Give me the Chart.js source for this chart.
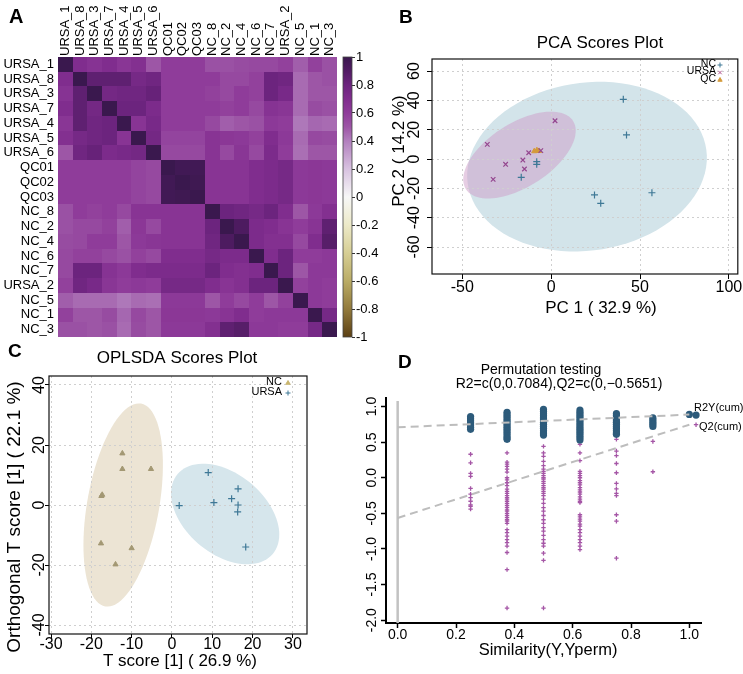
<!DOCTYPE html>
<html>
<head>
<meta charset="utf-8">
<title>Sample correlation, PCA, OPLS-DA and permutation test</title>
<script src="https://cdn.jsdelivr.net/npm/chart.js@4.4.1/dist/chart.umd.min.js"></script>
<style>
  html, body { margin: 0; padding: 0; background: #fff; overflow: hidden; }
  body { position: relative; width: 743px; height: 674px; }
  .panel { position: absolute; }
  canvas { display: block; }
</style>
</head>
<body>
<div class="panel" style="left:0;top:0"><canvas id="heatChart" width="340" height="345"></canvas></div>
<div class="panel" style="left:336px;top:0"><canvas id="scaleChart" width="64" height="345"></canvas></div>
<div class="panel" style="left:371px;top:0"><canvas id="pcaChart" width="372" height="330"></canvas></div>
<div class="panel" style="left:0;top:330px"><canvas id="oplsChart" width="371" height="344"></canvas></div>
<div class="panel" style="left:355px;top:330px"><canvas id="permChart" width="388" height="344"></canvas></div>
<script>
const FONT = '"Liberation Sans", Arial, Helvetica, sans-serif';
Chart.defaults.font.family = FONT;
Chart.defaults.color = '#000';

// ---- A: sample correlation heatmap ----
const sampleNames = ['URSA_1', 'URSA_8', 'URSA_3', 'URSA_7', 'URSA_4', 'URSA_5', 'URSA_6',
  'QC01', 'QC02', 'QC03', 'NC_8', 'NC_2', 'NC_4', 'NC_6', 'NC_7', 'URSA_2', 'NC_5', 'NC_1', 'NC_3'];
const corrRows = [
  [1.00, .70, .66, .70, .64, .68, .50, .60, .60, .60, .52, .52, .54, .55, .55, .58, .48, .58, .52],
  [.70, 1.00, .85, .85, .85, .75, .78, .60, .60, .60, .60, .55, .55, .58, .80, .78, .45, .50, .52],
  [.66, .85, 1.00, .76, .78, .78, .82, .60, .60, .60, .58, .55, .60, .58, .80, .74, .45, .50, .50],
  [.70, .85, .76, 1.00, .80, .80, .72, .60, .60, .60, .60, .58, .60, .55, .66, .64, .45, .54, .52],
  [.64, .85, .78, .80, 1.00, .65, .74, .60, .60, .60, .55, .48, .50, .52, .62, .60, .42, .46, .45],
  [.68, .75, .78, .80, .65, 1.00, .76, .57, .57, .57, .65, .63, .62, .58, .70, .62, .45, .55, .54],
  [.50, .78, .82, .72, .74, .76, 1.00, .55, .55, .55, .65, .55, .64, .55, .72, .60, .44, .50, .50],
  [.60, .60, .60, .60, .60, .57, .55, 1.00, .97, .97, .65, .65, .65, .70, .72, .75, .62, .63, .62],
  [.60, .60, .60, .60, .60, .57, .55, .97, 1.00, .98, .65, .65, .65, .70, .72, .75, .62, .63, .62],
  [.60, .60, .60, .60, .60, .57, .55, .97, .98, 1.00, .65, .65, .65, .70, .72, .75, .62, .63, .62],
  [.52, .60, .58, .60, .55, .65, .65, .65, .65, .65, 1.00, .80, .78, .75, .80, .70, .50, .62, .68],
  [.52, .55, .55, .58, .48, .63, .55, .65, .65, .65, .80, 1.00, .92, .72, .70, .65, .60, .65, .85],
  [.54, .55, .60, .60, .50, .62, .64, .65, .65, .65, .78, .92, 1.00, .72, .68, .68, .55, .70, .88],
  [.55, .58, .58, .55, .52, .58, .55, .70, .70, .70, .75, .72, .72, 1.00, .70, .80, .60, .60, .62],
  [.55, .80, .80, .66, .62, .70, .72, .72, .72, .72, .80, .70, .68, .70, 1.00, .80, .50, .62, .62],
  [.58, .78, .74, .64, .60, .62, .60, .75, .75, .75, .70, .65, .68, .80, .80, 1.00, .58, .62, .60],
  [.48, .45, .45, .45, .42, .45, .44, .62, .62, .62, .50, .60, .55, .60, .50, .58, 1.00, .62, .60],
  [.58, .50, .50, .54, .46, .55, .50, .63, .63, .63, .62, .65, .70, .60, .62, .62, .62, 1.00, .75],
  [.52, .52, .50, .52, .45, .54, .50, .62, .62, .62, .68, .85, .88, .62, .62, .60, .60, .75, 1.00]
];
const corrTicks = [-1, -0.8, -0.6, -0.4, -0.2, 0, 0.2, 0.4, 0.6, 0.8, 1];

// ---- B: PCA scores ----
const pcaNcX = [40.6, 42.4, 24.4, 27.9, 56.7, -16.8, -8.1, -8.1];
const pcaNcY = [40.7, 16.4, -24.5, -30.2, -23.0, -12.5, -1.8, -3.6];
const pcaUrsaX = [-35.9, 2.2, -25.6, -32.6, -15.9, -15.0, -12.6, -5.8];
const pcaUrsaY = [10.0, 26.1, -3.6, -13.9, -0.7, -6.8, 4.3, 5.7];
const pcaQcX = [-9.5, -8.0, -6.8];
const pcaQcY = [5.3, 6.0, 5.5];
const pcaTicksX = [-50, 0, 50, 100];
const pcaTicksY = [-60, -40, -20, 0, 20, 40, 60];

// ---- C: OPLS-DA scores ----
const oplsNcX = [-12.3, -12.3, -5.2, -17.5, -17.3, -17.6, -10.0, -14.0];
const oplsNcY = [17.2, 12.0, 12.0, 3.0, 3.4, -12.8, -14.4, -19.8];
const oplsUrsaX = [9.0, 1.8, 10.4, 14.8, 16.4, 16.4, 16.3, 18.3];
const oplsUrsaY = [10.8, -0.2, 0.8, 2.1, 5.4, 0.0, -2.3, -14.0];
const oplsTicksX = [-30, -20, -10, 0, 10, 20, 30];
const oplsTicksY = [-40, -20, 0, 20, 40];

// ---- D: permutation test ----
const permSim = [0.25, 0.375, 0.5, 0.625, 0.75, 0.875, 1.0, 1.023];
const permR2 = [
  [0.86, 0.83, 0.80, 0.77, 0.74, 0.71, 0.68],
  [0.92, 0.89, 0.86, 0.83, 0.80, 0.77, 0.74, 0.71, 0.68, 0.65, 0.62, 0.59, 0.56, 0.54],
  [0.96, 0.93, 0.90, 0.87, 0.84, 0.81, 0.78, 0.75, 0.72, 0.69, 0.66, 0.63, 0.60],
  [0.95, 0.92, 0.89, 0.86, 0.83, 0.80, 0.77, 0.74, 0.71, 0.68, 0.65, 0.62, 0.59, 0.56, 0.53],
  [0.90, 0.87, 0.81, 0.78, 0.75, 0.72, 0.69, 0.66, 0.63, 0.61],
  [0.84, 0.81, 0.78, 0.75, 0.72],
  [0.89],
  [0.88]
];
const permQ2 = [
  [0.33, 0.21, 0.06, 0.02, -0.15, -0.23, -0.28, -0.33, -0.38, -0.40, -0.44],
  [0.35, 0.22, 0.19, 0.16, 0.12, 0.08, 0.00, -0.03, -0.07, -0.11, -0.16, -0.19, -0.22, -0.25,
   -0.28, -0.30, -0.33, -0.36, -0.39, -0.42, -0.45, -0.47, -0.50, -0.53, -0.56, -0.59, -0.61,
   -0.64, -0.73, -0.77, -0.82, -0.87, -0.91, -0.96, -1.05, -1.29, -1.83],
  [0.44, 0.35, 0.30, 0.23, 0.17, 0.12, 0.09, 0.06, 0.03, 0.00, -0.02, -0.05, -0.08, -0.11,
   -0.14, -0.16, -0.19, -0.22, -0.25, -0.30, -0.36, -0.42, -0.47, -0.53, -0.59, -0.64, -0.70,
   -0.75, -0.81, -0.87, -0.92, -0.96, -1.06, -1.16, -1.83],
  [0.47, 0.35, 0.24, 0.09, 0.06, 0.03, 0.00, -0.04, -0.07, -0.10, -0.14, -0.17, -0.20, -0.23,
   -0.27, -0.30, -0.33, -0.35, -0.52, -0.55, -0.58, -0.61, -0.65, -0.68, -0.73, -0.77, -0.82,
   -0.87, -0.91, -0.96, -1.01],
  [0.54, 0.375, 0.31, 0.20, 0.07, -0.08, -0.155, -0.22, -0.25, -0.52, -0.61, -1.13],
  [0.51, 0.084],
  [],
  [0.745]
];
const r2LineX = [0, 1], r2LineY = [0.7084, 0.887];
const q2LineX = [0, 1], q2LineY = [-0.5651, 0.745];
const permTicksX = [0, 0.2, 0.4, 0.6, 0.8, 1.0];
const permTicksY = [-2, -1.5, -1, -0.5, 0, 0.5, 1];

// ---------- helpers ----------
const pts = (xs, ys) => xs.map((x, i) => ({ x, y: ys[i] }));
const f = (size, weight) => `${weight || 'normal'} ${size}px ${FONT}`;

// brown - white - purple scale used by the heatmap
const cmapStops = [-1, -0.8, -0.6, -0.4, -0.2, 0, 0.2, 0.4, 0.5, 0.6, 0.7, 0.8, 0.9, 1];
const cmapRgb = [[92, 64, 20], [146, 122, 60], [186, 172, 102], [214, 206, 148], [236, 233, 200],
  [247, 247, 247], [216, 194, 224], [178, 128, 190], [157, 86, 166], [143, 60, 154],
  [128, 45, 142], [108, 36, 126], [82, 28, 100], [58, 24, 78]];
function corrColor(v) {
  for (let k = 1; k < cmapStops.length; k++) {
    if (v <= cmapStops[k]) {
      const t = (v - cmapStops[k - 1]) / (cmapStops[k] - cmapStops[k - 1]);
      const a = cmapRgb[k - 1], b = cmapRgb[k];
      return `rgb(${a.map((c, i) => Math.round(c + (b[i] - c) * t)).join(',')})`;
    }
  }
  return `rgb(${cmapRgb[cmapRgb.length - 1].join(',')})`;
}

// free text (titles, axis titles, panel letters)
const textPlugin = {
  id: 'texts',
  afterDraw(chart, args, opts) {
    const ctx = chart.ctx;
    (opts.items || []).forEach(t => {
      ctx.save();
      ctx.font = t.font;
      ctx.fillStyle = '#000';
      ctx.textAlign = t.align || 'center';
      ctx.textBaseline = t.baseline || 'middle';
      ctx.translate(t.x, t.y);
      if (t.rotate) ctx.rotate(t.rotate * Math.PI / 180);
      ctx.fillText(t.text, 0, 0);
      ctx.restore();
    });
  }
};

// small R-style key: label then symbol
const keyPlugin = {
  id: 'keys',
  afterDraw(chart, args, opts) {
    const ctx = chart.ctx;
    (opts.items || []).forEach(k => {
      ctx.save();
      ctx.font = opts.font;
      ctx.fillStyle = '#000';
      ctx.textAlign = 'right';
      ctx.textBaseline = 'middle';
      ctx.fillText(k.text, opts.x, k.y);
      ctx.strokeStyle = k.color;
      ctx.fillStyle = k.color;
      Chart.helpers.drawPoint(ctx, { pointStyle: k.style, radius: 2.5, borderWidth: 1, rotation: 0 }, opts.x + opts.gap, k.y + 1);
      ctx.restore();
    });
  }
};

// confidence ellipses: centre + two conjugate semi-axes, in data units
const ellipsePlugin = {
  id: 'ellipses',
  beforeDraw(chart, args, opts) {
    const { ctx, chartArea: a, scales: { x, y } } = chart;
    ctx.save();
    ctx.beginPath();
    ctx.rect(a.left, a.top, a.right - a.left, a.bottom - a.top);
    ctx.clip();
    (opts.items || []).forEach(e => {
      ctx.beginPath();
      for (let k = 0; k <= 90; k++) {
        const t = k / 90 * 2 * Math.PI;
        const px = x.getPixelForValue(e.c[0] + e.u[0] * Math.cos(t) + e.v[0] * Math.sin(t));
        const py = y.getPixelForValue(e.c[1] + e.u[1] * Math.cos(t) + e.v[1] * Math.sin(t));
        if (k === 0) ctx.moveTo(px, py); else ctx.lineTo(px, py);
      }
      ctx.closePath();
      ctx.fillStyle = e.color;
      ctx.fill();
    });
    ctx.restore();
  }
};

const framePlugin = {
  id: 'frame',
  afterDraw(chart) {
    const { ctx, chartArea: a } = chart;
    ctx.save();
    ctx.strokeStyle = '#111';
    ctx.lineWidth = 1.2;
    ctx.strokeRect(a.left, a.top, a.right - a.left, a.bottom - a.top);
    ctx.restore();
  }
};

const heatPlugin = {
  id: 'heatCells',
  beforeDatasetsDraw(chart) {
    const { ctx, scales: { x, y } } = chart;
    chart.data.datasets[0].data.forEach(c => {
      const x0 = Math.round(x.getPixelForValue(c.x - 0.5));
      const x1 = Math.round(x.getPixelForValue(c.x + 0.5));
      const y0 = Math.round(y.getPixelForValue(c.y - 0.5));
      const y1 = Math.round(y.getPixelForValue(c.y + 0.5));
      ctx.fillStyle = corrColor(c.v);
      ctx.fillRect(x0, Math.min(y0, y1), x1 - x0, Math.abs(y1 - y0));
    });
  }
};

const colorbarPlugin = {
  id: 'colorbar',
  beforeDatasetsDraw(chart) {
    const { ctx, chartArea: a, scales: { y } } = chart;
    const y0 = y.getPixelForValue(-1), y1 = y.getPixelForValue(1);
    const g = ctx.createLinearGradient(0, y0, 0, y1);
    cmapStops.forEach((s, i) => g.addColorStop((s + 1) / 2, `rgb(${cmapRgb[i].join(',')})`));
    ctx.save();
    ctx.fillStyle = g;
    ctx.fillRect(a.left, y1, a.right - a.left, y0 - y1);
    ctx.strokeStyle = '#444';
    ctx.lineWidth = 0.8;
    ctx.strokeRect(a.left, y1, a.right - a.left, y0 - y1);
    ctx.restore();
  }
};

const zeroLinePlugin = {
  id: 'zeroLine',
  beforeDatasetsDraw(chart) {
    const { ctx, chartArea: a, scales: { x } } = chart;
    const px = x.getPixelForValue(0);
    ctx.save();
    ctx.strokeStyle = '#c2c2c2';
    ctx.lineWidth = 2.5;
    ctx.beginPath();
    ctx.moveTo(px, a.top + 3);
    ctx.lineTo(px, a.bottom);
    ctx.stroke();
    ctx.restore();
  }
};

function fixedTicks(list) {
  return s => { s.ticks = list.map(v => ({ value: v })); };
}

// axes for the framed score plots (B, C)
function scoreScales(c) {
  return {
    x: {
      type: 'linear', min: c.xMin, max: c.xMax,
      afterBuildTicks: fixedTicks(c.xTicks),
      afterFit: s => { s.height = c.xHeight; s.paddingLeft = 0; s.paddingRight = 0; },
      grid: { color: '#cfcfcf', tickColor: '#000', tickLength: c.tick },
      border: { display: false, dash: [2, 3] },
      ticks: { autoSkip: false, font: { size: 16 }, color: '#000', padding: c.xPad, maxRotation: 0 }
    },
    y: {
      type: 'linear', min: c.yMin, max: c.yMax,
      afterBuildTicks: fixedTicks(c.yTicks),
      afterFit: s => { s.width = c.yWidth; s.paddingTop = 0; s.paddingBottom = 0; },
      grid: { color: '#cfcfcf', tickColor: '#000', tickLength: c.tick },
      border: { display: false, dash: [2, 3] },
      ticks: { autoSkip: false, font: { size: 16 }, color: '#000', padding: c.yPad,
        minRotation: 90, maxRotation: 90, crossAlign: 'center' }
    }
  };
}

const baseOptions = {
  responsive: false,
  animation: false,
  events: []
};

// ---------- A ----------
const heatCells = [];
corrRows.forEach((row, i) => row.forEach((v, j) => heatCells.push({ x: j, y: i, v })));

new Chart(document.getElementById('heatChart'), {
  type: 'scatter',
  data: { datasets: [{ data: heatCells, pointRadius: 0 }] },
  options: {
    ...baseOptions,
    layout: { padding: { left: 0, top: 0, right: 3, bottom: 8 } },
    plugins: {
      legend: { display: false },
      tooltip: { enabled: false },
      texts: { items: [{ text: 'A', x: 9, y: 23, font: f(20, 'bold'), align: 'left', baseline: 'alphabetic' }] }
    },
    scales: {
      x: {
        type: 'linear', position: 'top', min: -0.5, max: 18.5,
        afterBuildTicks: fixedTicks(sampleNames.map((_, i) => i)),
        afterFit: s => { s.height = 57; s.paddingLeft = 0; s.paddingRight = 0; },
        grid: { display: false, drawTicks: false, tickLength: 0 },
        border: { display: false },
        ticks: { autoSkip: false, minRotation: 90, maxRotation: 90, padding: 1, labelOffset: 15.6,
          font: { size: 13 }, color: '#000', callback: v => sampleNames[v] }
      },
      y: {
        type: 'linear', reverse: true, min: -0.5, max: 18.5,
        afterBuildTicks: fixedTicks(sampleNames.map((_, i) => i)),
        afterFit: s => { s.width = 58; s.paddingTop = 0; s.paddingBottom = 0; },
        grid: { display: false, drawTicks: false, tickLength: 0 },
        border: { display: false },
        ticks: { autoSkip: false, padding: 4, font: { size: 13 }, color: '#000',
          callback: v => sampleNames[v] }
      }
    }
  },
  plugins: [heatPlugin, textPlugin]
});

new Chart(document.getElementById('scaleChart'), {
  type: 'scatter',
  data: { datasets: [] },
  options: {
    ...baseOptions,
    layout: { padding: { left: 7, top: 57, right: 0, bottom: 8 } },
    plugins: { legend: { display: false }, tooltip: { enabled: false } },
    scales: {
      x: { display: false, min: 0, max: 1 },
      y: {
        position: 'right', min: -1, max: 1,
        afterBuildTicks: fixedTicks(corrTicks),
        afterFit: s => { s.width = 48; s.paddingTop = 0; s.paddingBottom = 0; },
        grid: { drawOnChartArea: false, tickLength: 3, tickColor: '#333' },
        border: { display: false },
        ticks: { autoSkip: false, padding: 1, font: { size: 13 }, color: '#000',
          callback: v => String(+v.toFixed(1)) }
      }
    }
  },
  plugins: [colorbarPlugin]
});

// ---------- B ----------
new Chart(document.getElementById('pcaChart'), {
  type: 'scatter',
  data: {
    datasets: [
      { label: 'NC', data: pts(pcaNcX, pcaNcY), pointStyle: 'cross', pointRadius: 3.5,
        borderColor: '#3e7896', borderWidth: 1.2 },
      { label: 'URSA', data: pts(pcaUrsaX, pcaUrsaY), pointStyle: 'crossRot', pointRadius: 3.2,
        borderColor: '#94468f', borderWidth: 1.2 },
      { label: 'QC', data: pts(pcaQcX, pcaQcY), pointStyle: 'triangle', pointRadius: 3,
        backgroundColor: '#d49a3a', borderColor: '#d49a3a', borderWidth: 1 }
    ]
  },
  options: {
    ...baseOptions,
    layout: { padding: { left: 0, top: 59, right: 1, bottom: 0 } },
    plugins: {
      legend: { display: false },
      tooltip: { enabled: false },
      ellipses: { items: [
        { c: [20.2, -5.2], u: [67.1, 11.6], v: [-6.5, 56.7], color: '#d3e4ea' },
        { c: [-17.8, 2.7], u: [30.2, 23.1], v: [-9.4, 18.5], color: 'rgba(205,155,200,0.5)' }
      ] },
      keys: { x: 345, gap: 4, font: f(10.5), items: [
        { text: 'NC', y: 64, style: 'cross', color: '#3e7896' },
        { text: 'URSA', y: 71.5, style: 'crossRot', color: '#b0568f' },
        { text: 'QC', y: 79, style: 'triangle', color: '#d49a3a' }
      ] },
      texts: { items: [
        { text: 'B', x: 28, y: 23, font: f(19, 'bold'), align: 'left', baseline: 'alphabetic' },
        { text: 'PCA Scores Plot', x: 229, y: 43, font: f(17) },
        { text: 'PC 1 ( 32.9 %)', x: 230, y: 308, font: f(17) },
        { text: 'PC 2 ( 14.2 %)', x: 28, y: 151, font: f(17), rotate: -90 }
      ] }
    },
    scales: scoreScales({ xMin: -67, xMax: 105, xTicks: pcaTicksX, xHeight: 56, xPad: -1,
      yMin: -78.4, yMax: 68.2, yTicks: pcaTicksY, yWidth: 61, yPad: 1, tick: 5 })
  },
  plugins: [ellipsePlugin, framePlugin, keyPlugin, textPlugin]
});

// ---------- C ----------
new Chart(document.getElementById('oplsChart'), {
  type: 'scatter',
  data: {
    datasets: [
      { label: 'NC', data: pts(oplsNcX, oplsNcY), pointStyle: 'triangle', pointRadius: 3,
        backgroundColor: '#a39873', borderColor: '#a39873', borderWidth: 1 },
      { label: 'URSA', data: pts(oplsUrsaX, oplsUrsaY), pointStyle: 'cross', pointRadius: 3.5,
        borderColor: '#3e7896', borderWidth: 1.2 }
    ]
  },
  options: {
    ...baseOptions,
    layout: { padding: { left: 0, top: 46, right: 64, bottom: 0 } },
    plugins: {
      legend: { display: false },
      tooltip: { enabled: false },
      ellipses: { items: [
        { c: [-12.1, 0], u: [4.44, 33.8], v: [-8.8, 2.08], color: '#ece4d4' },
        { c: [13.2, -3], u: [11.8, -13.3], v: [6.4, 10.2], color: '#d6e6ec' }
      ] },
      keys: { x: 282, gap: 6, font: f(11), items: [
        { text: 'NC', y: 52, style: 'triangle', color: '#c9b56e' },
        { text: 'URSA', y: 62, style: 'cross', color: '#3e7896' }
      ] },
      texts: { items: [
        { text: 'C', x: 8, y: 27, font: f(19, 'bold'), align: 'left', baseline: 'alphabetic' },
        { text: 'OPLSDA Scores Plot', x: 177, y: 28, font: f(17) },
        { text: 'T score [1] ( 26.9 %)', x: 180, y: 331, font: f(17) },
        { text: 'Orthogonal T score [1] ( 22.1 %)', x: 15, y: 187, font: f(19), rotate: -90 }
      ] }
    },
    scales: scoreScales({ xMin: -30.5, xMax: 33.5, xTicks: oplsTicksX, xHeight: 40, xPad: -3,
      yMin: -43, yMax: 43, yTicks: oplsTicksY, yWidth: 49, yPad: -6.6, tick: 4 })
  },
  plugins: [ellipsePlugin, framePlugin, keyPlugin, textPlugin]
});

// ---------- D ----------
const r2Points = permSim.flatMap((s, k) => permR2[k].map(v => ({ x: s, y: v })));
const q2Points = permSim.flatMap((s, k) => permQ2[k].map(v => ({ x: s, y: v })));

new Chart(document.getElementById('permChart'), {
  type: 'scatter',
  data: {
    datasets: [
      { type: 'line', data: pts(r2LineX, r2LineY), borderColor: '#bdbdbd', borderWidth: 2,
        borderDash: [8, 5], pointRadius: 0, order: 0 },
      { type: 'line', data: pts(q2LineX, q2LineY), borderColor: '#bdbdbd', borderWidth: 2,
        borderDash: [8, 5], pointRadius: 0, order: 0 },
      { label: 'R2Y(cum)', data: r2Points, pointStyle: 'circle', pointRadius: 3.6,
        backgroundColor: '#2d5b7b', borderWidth: 0, order: 1 },
      { label: 'Q2(cum)', data: q2Points, pointStyle: 'cross', pointRadius: 2.2,
        borderColor: '#a556a6', borderWidth: 1.3, order: 1 }
    ]
  },
  options: {
    ...baseOptions,
    layout: { padding: { left: 0, top: 68, right: 42, bottom: 0 } },
    plugins: {
      legend: { display: false },
      tooltip: { enabled: false },
      texts: { items: [
        { text: 'D', x: 43, y: 38, font: f(19, 'bold'), align: 'left', baseline: 'alphabetic' },
        { text: 'Permutation testing', x: 186, y: 40, font: f(14) },
        { text: 'R2=c(0,0.7084),Q2=c(0,\u22120.5651)', x: 204, y: 54, font: f(14) },
        { text: 'Similarity(Y,Yperm)', x: 193, y: 320, font: f(16.5) },
        { text: 'R2Y(cum)', x: 339, y: 78, font: f(11), align: 'left' },
        { text: 'Q2(cum)', x: 344, y: 97, font: f(11), align: 'left' }
      ] }
    },
    scales: {
      x: {
        type: 'linear', min: -0.04, max: 1.04,
        afterBuildTicks: fixedTicks(permTicksX),
        afterFit: s => { s.height = 51; s.paddingLeft = 0; s.paddingRight = 0; },
        grid: { drawOnChartArea: false, tickLength: 5, tickColor: '#000', tickWidth: 1.5 },
        border: { display: true, color: '#000', width: 2 },
        ticks: { autoSkip: false, font: { size: 14 }, color: '#000', padding: -1, maxRotation: 0,
          callback: v => v.toFixed(1) }
      },
      y: {
        type: 'linear', min: -2.04, max: 1.12,
        afterBuildTicks: fixedTicks(permTicksY),
        afterFit: s => { s.width = 31; s.paddingTop = 0; s.paddingBottom = 0; },
        grid: { drawOnChartArea: false, tickLength: 5, tickColor: '#000', tickWidth: 1.5 },
        border: { display: true, color: '#000', width: 2 },
        ticks: { autoSkip: false, font: { size: 14 }, color: '#000', padding: -3.5,
          minRotation: 90, maxRotation: 90, crossAlign: 'center', callback: v => v.toFixed(1) }
      }
    }
  },
  plugins: [zeroLinePlugin, textPlugin]
});
</script>
</body>
</html>
